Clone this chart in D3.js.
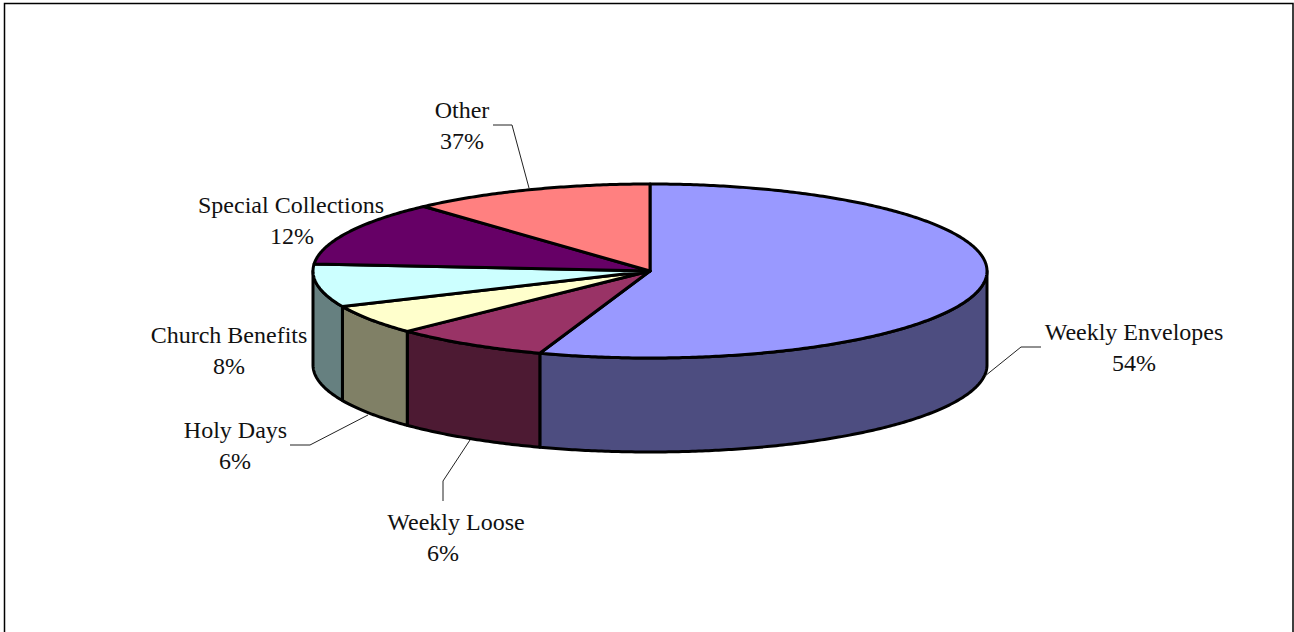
<!DOCTYPE html>
<html lang="en">
<head>
  <meta charset="UTF-8">
  <title>Collections pie</title>
  <script src="https://d3js.org/d3.v7.min.js"></script>
  <style>
    html, body { margin: 0; padding: 0; background: #fff; }
    svg { display: block; }
    text { font-family: "Liberation Serif", serif; font-size: 24px; fill: #111; text-anchor: middle; }
  </style>
</head>
<body>
  <div id="chart"></div>
  <script>
    // slice sizes as drawn; printed percentages do not sum to 100 in the original
    const categories = ["Weekly Envelopes", "Weekly Loose", "Holy Days", "Church Benefits", "Special Collections", "Other"];
    const sliceValues = [55.3, 7.5, 5.5, 8, 12, 11.7];
    const printedPercents = ["54%", "6%", "6%", "8%", "12%", "37%"];
    const topColors = ["#9999ff", "#993366", "#ffffcc", "#ccffff", "#660066", "#ff8080"];
    const sideColors = ["#4d4d80", "#4d1a33", "#808066", "#668080", "#330033", "#804040"];

    // label placement: [name x, name baseline, pct x, pct baseline]
    const labelSpots = [
      [1134, 340, 1134, 371],
      [456, 530, 443, 561],
      [235.5, 438, 235, 469],
      [229, 343, 229, 374],
      [291, 213, 292, 244],
      [462, 118, 462, 149]
    ];
    const leaders = [
      [[1041, 347], [1021, 347], [985, 376]],
      [[443, 501], [443, 481], [470, 440]],
      [[290, 445], [310, 445], [368, 415]],
      [[493, 125], [512, 125], [529, 188]]
    ];

    const width = 1294, height = 632;
    const cx = 650, cy = 271, rx = 337, ry = 87, depth = 94;

    const svg = d3.select("#chart").append("svg")
      .attr("width", width)
      .attr("height", height);

    // frame
    svg.append("path")
      .attr("d", "M4.5,632V3.5H1293V632")
      .attr("fill", "none")
      .attr("stroke", "#000")
      .attr("stroke-width", 1.5);

    const xScale = d3.scaleLinear().domain([-1, 1]).range([cx - rx, cx + rx]);
    const yScale = d3.scaleLinear().domain([-1, 1]).range([cy - ry, cy + ry]);

    const pie = d3.pie().sort(null).value(d => d);
    const arcs = pie(sliceValues);

    // angle is clockwise from the top, like d3.pie
    const px = a => xScale(Math.sin(a));
    const py = a => yScale(-Math.cos(a));

    function rim(a0, a1) {
      const n = Math.max(2, Math.ceil((a1 - a0) / 0.01));
      return d3.range(n + 1).map(i => a0 + (a1 - a0) * i / n);
    }
    const line = d3.line().x(d => d[0]).y(d => d[1]);

    // side wall, only the part facing us (3 o'clock to 9 o'clock)
    arcs.forEach((d, i) => {
      const a0 = Math.max(d.startAngle, Math.PI / 2);
      const a1 = Math.min(d.endAngle, Math.PI * 1.5);
      if (a1 <= a0) return;
      const upper = rim(a0, a1).map(a => [px(a), py(a)]);
      const lower = rim(a0, a1).reverse().map(a => [px(a), py(a) + depth]);
      svg.append("path")
        .attr("d", line(upper.concat(lower)) + "Z")
        .attr("fill", sideColors[i])
        .attr("stroke", "#000")
        .attr("stroke-width", 3)
        .attr("stroke-linejoin", "round");
    });

    // top face
    arcs.forEach((d, i) => {
      const pts = [[cx, cy]].concat(rim(d.startAngle, d.endAngle).map(a => [px(a), py(a)]));
      svg.append("path")
        .attr("d", line(pts) + "Z")
        .attr("fill", topColors[i])
        .attr("stroke", "#000")
        .attr("stroke-width", 3)
        .attr("stroke-linejoin", "round");
    });

    svg.selectAll("path.leader")
      .data(leaders)
      .join("path")
      .attr("class", "leader")
      .attr("d", line)
      .attr("fill", "none")
      .attr("stroke", "#222")
      .attr("stroke-width", 1);

    categories.forEach((name, i) => {
      const s = labelSpots[i];
      svg.append("text").attr("x", s[0]).attr("y", s[1]).text(name);
      svg.append("text").attr("x", s[2]).attr("y", s[3]).text(printedPercents[i]);
    });
  </script>
</body>
</html>
